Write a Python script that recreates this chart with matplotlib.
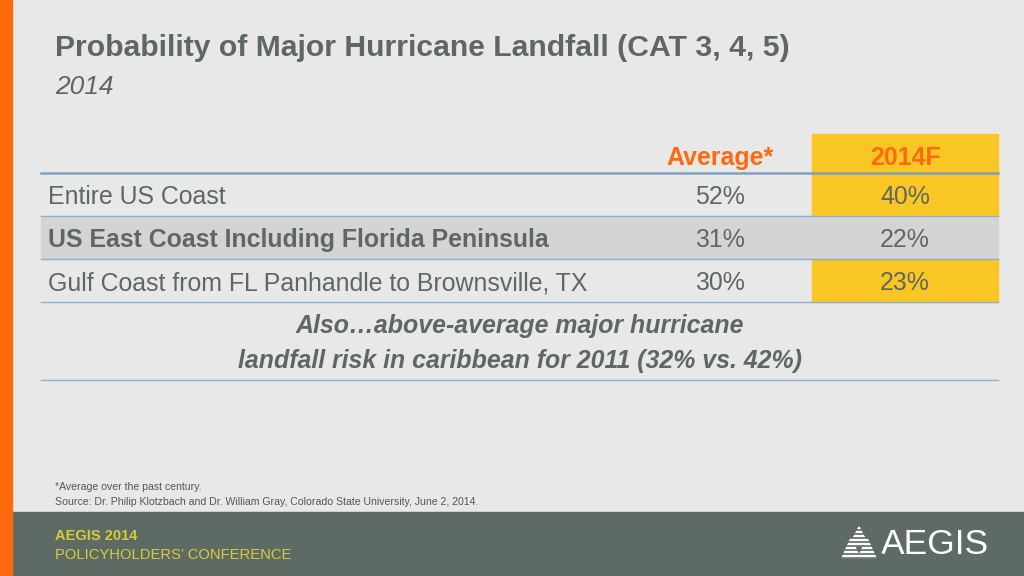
import matplotlib.pyplot as plt
from matplotlib.patches import Rectangle, Polygon

plt.rcParams['font.family'] = ['Liberation Sans', 'DejaVu Sans']

# === data ===
title = "Probability of Major Hurricane Landfall (CAT 3, 4, 5)"
subtitle = "2014"
col_headers = ["Average*", "2014F"]
regions = [
    "Entire US Coast",
    "US East Coast Including Florida Peninsula",
    "Gulf Coast from FL Panhandle to Brownsville, TX",
]
average = [52, 31, 30]
forecast_2014 = [40, 22, 23]
note_lines = ["Also\u2026above-average major hurricane",
              "landfall risk in caribbean for 2011 (32% vs. 42%)"]
footnotes = ["*Average over the past century.",
             "Source: Dr. Philip Klotzbach and Dr. William Gray, Colorado State University, June 2, 2014."]

# colours
bg = "#E8E8E8"
orange = "#FF6A0D"
text_grey = "#5F6762"
yellow = "#F9C623"
row_grey = "#D4D4D4"
line_blue = "#8FAFD3"
footer_col = "#5E6B64"
footer_yel = "#D6CC3A"

fig = plt.figure(figsize=(10.24, 5.76), dpi=100)
fig.patch.set_facecolor(bg)
ax = fig.add_axes([0, 0, 1, 1])
ax.set_xlim(0, 1024)
ax.set_ylim(576, 0)
ax.axis("off")

# side bar and footer
ax.add_patch(Rectangle((0, 0), 12, 576, color=orange, zorder=3))
ax.add_patch(Rectangle((12, 512), 1012, 64, color=footer_col, zorder=2))

# title
ax.text(55, 48, title, fontsize=21.7, fontweight="bold", color=text_grey, va="center")
ax.text(55, 87, subtitle, fontsize=19, style="italic", color=text_grey, va="center")

# table geometry
x0, x1 = 41, 998
col_x = [720, 905]
ycol_l, ycol_r = 812, 998
header_top, header_bot = 134, 173
row_h = 43
fs = 17.9

# header
ax.add_patch(Rectangle((ycol_l, header_top), ycol_r - ycol_l, header_bot - header_top,
                       color=yellow, zorder=1))
for cx, h in zip(col_x, col_headers):
    ax.text(cx, 158, h, fontsize=fs, fontweight="bold", color=orange, ha="center", va="center")

for i, (reg, av, fc) in enumerate(zip(regions, average, forecast_2014)):
    top = header_bot + i * row_h
    yc = top + row_h / 2 + 2.5
    bold = (i == 1)
    if bold:
        ax.add_patch(Rectangle((x0, top), x1 - x0, row_h, color=row_grey, zorder=1))
    else:
        ax.add_patch(Rectangle((ycol_l, top), ycol_r - ycol_l, row_h, color=yellow, zorder=1))
    ax.text(48, yc, reg, fontsize=fs, color=text_grey, va="center",
            fontweight="bold" if bold else "normal")
    ax.text(col_x[0], yc, f"{av}%", fontsize=fs, color=text_grey, ha="center", va="center")
    ax.text(col_x[1], yc, f"{fc}%", fontsize=fs, color=text_grey, ha="center", va="center")
    ax.plot([x0, x1], [top + row_h, top + row_h], color=line_blue, lw=1, zorder=2)

ax.plot([x0, x1], [header_bot, header_bot], color="#7F9FC3", lw=1.8, zorder=2)

# note
for j, line in enumerate(note_lines):
    ax.text(520, 326 + j * 35, line, fontsize=fs, fontweight="bold", style="italic",
            color=text_grey, ha="center", va="center")
ax.plot([x0, x1], [380, 380], color=line_blue, lw=1, zorder=2)

# footnotes
for j, fn in enumerate(footnotes):
    ax.text(55, 487 + j * 15, fn, fontsize=7.6, color="#555555", va="center")

# footer text
ax.text(55, 536, "AEGIS 2014", fontsize=10.5, fontweight="bold", color=footer_yel, va="center")
ax.text(55, 555, "POLICYHOLDERS\u2019 CONFERENCE", fontsize=10.6, color=footer_yel, va="center")

# logo
ax.text(881, 545, "AEGIS", fontsize=25.5, color="white", va="center", fontweight="light")
for (cx, ty, w, h) in [(859, 527, 20, 19), (851, 538, 18, 20), (867, 538, 18, 20)]:
    ax.add_patch(Polygon([(cx, ty), (cx - w / 2, ty + h), (cx + w / 2, ty + h)],
                         closed=True, color="white", zorder=3))
for yy in range(530, 560, 4):
    ax.plot([838, 882], [yy, yy], color=footer_col, lw=1.2, zorder=4)

fig.savefig("out.png", dpi=100, facecolor=bg)
